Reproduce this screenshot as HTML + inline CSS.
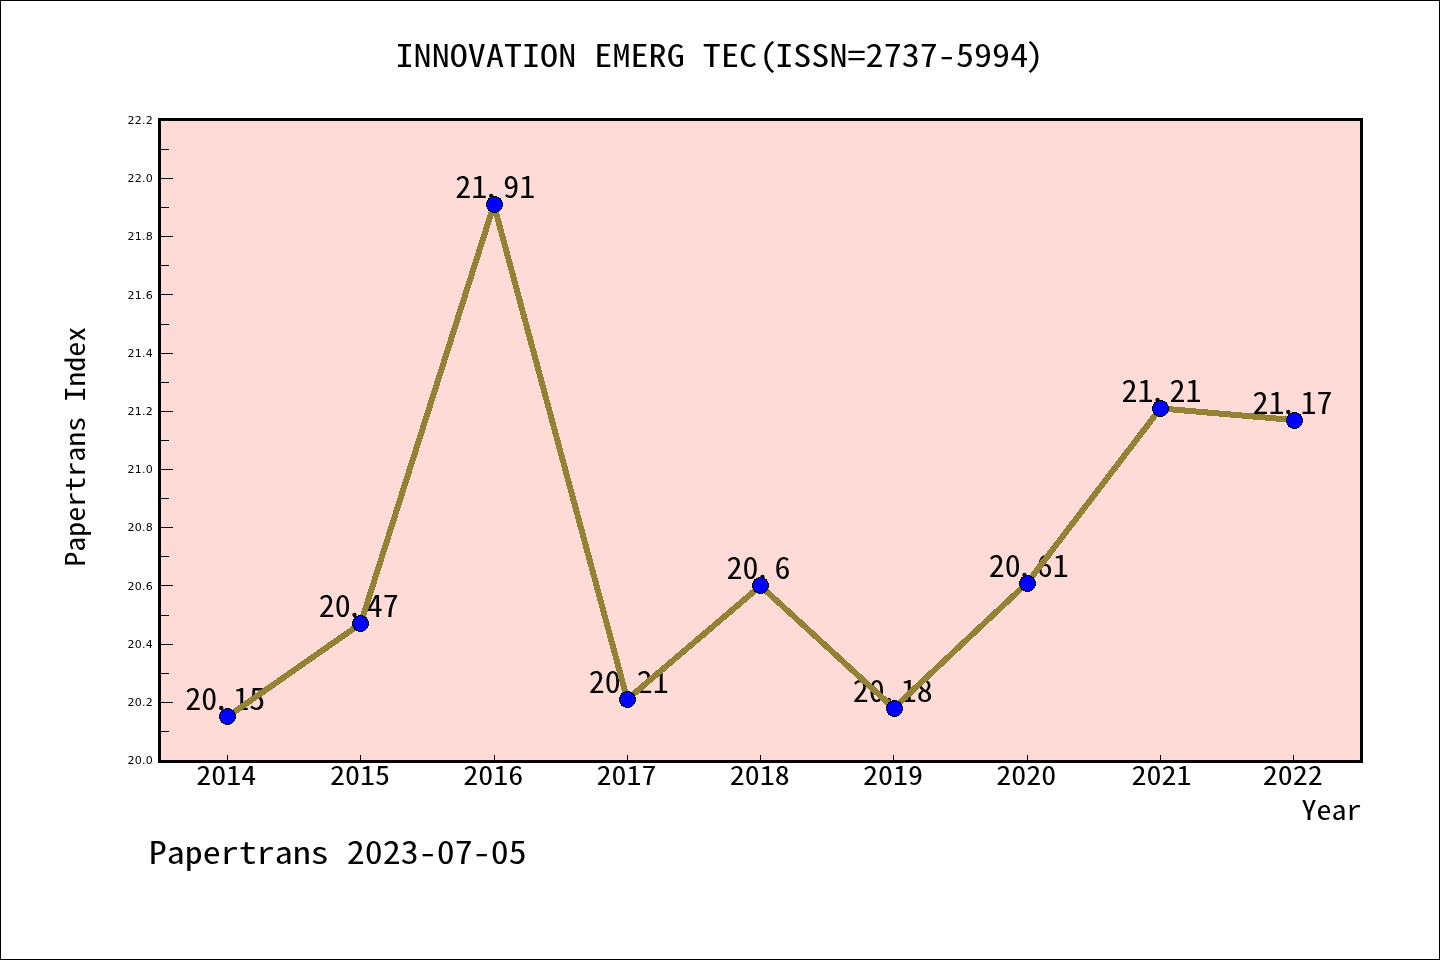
<!DOCTYPE html>
<html lang="en"><head><meta charset="utf-8"><title>INNOVATION EMERG TEC</title>
<style>html,body{margin:0;padding:0;background:#fff;}body{width:1440px;height:960px;overflow:hidden;}svg{display:block;position:absolute;left:0;top:0;}.m{font-family:'Noto Sans Mono CJK SC','IPAGothic','Liberation Mono',monospace;fill:#000;white-space:pre;}.s{font-family:'DejaVu Sans','Liberation Sans',sans-serif;fill:#000;font-size:11px;letter-spacing:0.25px;}</style></head><body>
<svg width="1440" height="960" viewBox="0 0 1440 960">
<rect x="0" y="0" width="1440" height="960" fill="#fff"/>
<rect x="159.5" y="119.5" width="1202.0" height="642.0" fill="#FEDBD7"/>
<g class="m">
<text x="185.36" y="710.00" font-size="30.00" textLength="80.00" lengthAdjust="spacingAndGlyphs" dx="0 0 -3.9 3.9">20.15</text>
<text x="318.66" y="617.10" font-size="30.00" textLength="80.00" lengthAdjust="spacingAndGlyphs" dx="0 0 -3.9 3.9">20.47</text>
<text x="455.36" y="198.30" font-size="30.00" textLength="80.00" lengthAdjust="spacingAndGlyphs" dx="0 0 -3.9 3.9">21.91</text>
<text x="588.66" y="692.90" font-size="30.00" textLength="80.00" lengthAdjust="spacingAndGlyphs" dx="0 0 -3.9 3.9">20.21</text>
<text x="726.56" y="579.20" font-size="30.00" textLength="64.00" lengthAdjust="spacingAndGlyphs" dx="0 0 -3.9 3.9">20.6</text>
<text x="852.86" y="701.70" font-size="30.00" textLength="80.00" lengthAdjust="spacingAndGlyphs" dx="0 0 -3.9 3.9">20.18</text>
<text x="988.66" y="576.70" font-size="30.00" textLength="80.00" lengthAdjust="spacingAndGlyphs" dx="0 0 -3.9 3.9">20.61</text>
<text x="1121.56" y="401.80" font-size="30.00" textLength="80.00" lengthAdjust="spacingAndGlyphs" dx="0 0 -3.9 3.9">21.21</text>
<text x="1252.41" y="413.75" font-size="30.00" textLength="80.00" lengthAdjust="spacingAndGlyphs" dx="0 0 -3.9 3.9">21.17</text>
</g>
<g stroke="#000" stroke-width="1" shape-rendering="crispEdges">
<line x1="159.5" y1="731.5" x2="169.0" y2="731.5"/>
<line x1="159.5" y1="702.5" x2="173.0" y2="702.5"/>
<line x1="159.5" y1="673.5" x2="169.0" y2="673.5"/>
<line x1="159.5" y1="644.5" x2="173.0" y2="644.5"/>
<line x1="159.5" y1="615.5" x2="169.0" y2="615.5"/>
<line x1="159.5" y1="585.5" x2="173.0" y2="585.5"/>
<line x1="159.5" y1="556.5" x2="169.0" y2="556.5"/>
<line x1="159.5" y1="527.5" x2="173.0" y2="527.5"/>
<line x1="159.5" y1="498.5" x2="169.0" y2="498.5"/>
<line x1="159.5" y1="469.5" x2="173.0" y2="469.5"/>
<line x1="159.5" y1="440.5" x2="169.0" y2="440.5"/>
<line x1="159.5" y1="411.5" x2="173.0" y2="411.5"/>
<line x1="159.5" y1="382.5" x2="169.0" y2="382.5"/>
<line x1="159.5" y1="353.5" x2="173.0" y2="353.5"/>
<line x1="159.5" y1="324.5" x2="169.0" y2="324.5"/>
<line x1="159.5" y1="294.5" x2="173.0" y2="294.5"/>
<line x1="159.5" y1="265.5" x2="169.0" y2="265.5"/>
<line x1="159.5" y1="236.5" x2="173.0" y2="236.5"/>
<line x1="159.5" y1="207.5" x2="169.0" y2="207.5"/>
<line x1="159.5" y1="178.5" x2="173.0" y2="178.5"/>
<line x1="159.5" y1="149.5" x2="169.0" y2="149.5"/>
<line x1="227.5" y1="761.5" x2="227.5" y2="755.0"/>
<line x1="360.5" y1="761.5" x2="360.5" y2="755.0"/>
<line x1="494.5" y1="761.5" x2="494.5" y2="755.0"/>
<line x1="627.5" y1="761.5" x2="627.5" y2="755.0"/>
<line x1="760.5" y1="761.5" x2="760.5" y2="755.0"/>
<line x1="893.5" y1="761.5" x2="893.5" y2="755.0"/>
<line x1="1027.5" y1="761.5" x2="1027.5" y2="755.0"/>
<line x1="1160.5" y1="761.5" x2="1160.5" y2="755.0"/>
<line x1="1293.5" y1="761.5" x2="1293.5" y2="755.0"/>
</g>
<polyline points="227.30,716.85 360.60,623.73 493.90,204.69 627.20,699.39 760.50,585.90 893.80,708.12 1027.10,582.99 1160.40,408.39 1293.70,420.03" fill="none" stroke="#938234" stroke-width="6" stroke-linejoin="round" stroke-linecap="butt" shape-rendering="crispEdges"/>
<g fill="#0000FF" stroke="#000" stroke-width="1" shape-rendering="crispEdges">
<circle cx="227.5" cy="716.5" r="8"/>
<circle cx="360.5" cy="623.5" r="8"/>
<circle cx="494.5" cy="204.5" r="8"/>
<circle cx="627.5" cy="699.5" r="8"/>
<circle cx="760.5" cy="585.5" r="8"/>
<circle cx="894.5" cy="708.5" r="8"/>
<circle cx="1027.5" cy="583.5" r="8"/>
<circle cx="1160.5" cy="408.5" r="8"/>
<circle cx="1294.5" cy="420.5" r="8"/>
</g>
<rect x="159.5" y="119.5" width="1202.0" height="642.0" fill="none" stroke="#000" stroke-width="3" shape-rendering="crispEdges"/>
<g class="s" text-anchor="end">
<text x="153.1" y="764.20">20.0</text>
<text x="153.1" y="706.00">20.2</text>
<text x="153.1" y="647.80">20.4</text>
<text x="153.1" y="589.60">20.6</text>
<text x="153.1" y="531.40">20.8</text>
<text x="153.1" y="473.20">21.0</text>
<text x="153.1" y="415.00">21.2</text>
<text x="153.1" y="356.80">21.4</text>
<text x="153.1" y="298.60">21.6</text>
<text x="153.1" y="240.40">21.8</text>
<text x="153.1" y="182.20">22.0</text>
<text x="153.1" y="124.00">22.2</text>
</g>
<g class="m">
<text x="196.34" y="785.00" font-size="26.80" textLength="60.00" lengthAdjust="spacingAndGlyphs">2014</text>
<text x="330.09" y="785.00" font-size="26.80" textLength="60.00" lengthAdjust="spacingAndGlyphs">2015</text>
<text x="463.34" y="785.00" font-size="26.80" textLength="60.00" lengthAdjust="spacingAndGlyphs">2016</text>
<text x="596.59" y="785.00" font-size="26.80" textLength="60.00" lengthAdjust="spacingAndGlyphs">2017</text>
<text x="729.84" y="785.00" font-size="26.80" textLength="60.00" lengthAdjust="spacingAndGlyphs">2018</text>
<text x="863.09" y="785.00" font-size="26.80" textLength="60.00" lengthAdjust="spacingAndGlyphs">2019</text>
<text x="996.34" y="785.00" font-size="26.80" textLength="60.00" lengthAdjust="spacingAndGlyphs">2020</text>
<text x="1131.64" y="785.00" font-size="26.80" textLength="60.00" lengthAdjust="spacingAndGlyphs">2021</text>
<text x="1262.84" y="785.00" font-size="26.80" textLength="60.00" lengthAdjust="spacingAndGlyphs">2022</text>
<text x="1301.50" y="820.30" font-size="26.80" textLength="60.00" lengthAdjust="spacingAndGlyphs">Year</text>
<text x="395.50" y="66.90" font-size="31.50" textLength="648.00" lengthAdjust="spacingAndGlyphs" dx="0 0 0 0 0 0 0 0 0 0 0 0 0 0 0 0 0 0 0 0 2 -2 0 0 0 0 0 0 0 0 0 0 0 0 0 -2.5">INNOVATION EMERG TEC(ISSN=2737-5994)</text>
<text x="148.80" y="864.00" font-size="31.50" textLength="378.00" lengthAdjust="spacingAndGlyphs">Papertrans 2023-07-05</text>
<text x="0.00" y="0.00" font-size="26.80" textLength="240.00" lengthAdjust="spacingAndGlyphs" transform="translate(84.5,566.8) rotate(-90)">Papertrans Index</text>
</g>
<rect x="0.5" y="0.5" width="1439" height="959" fill="none" stroke="#000" stroke-width="1" shape-rendering="crispEdges"/>
</svg></body></html>
